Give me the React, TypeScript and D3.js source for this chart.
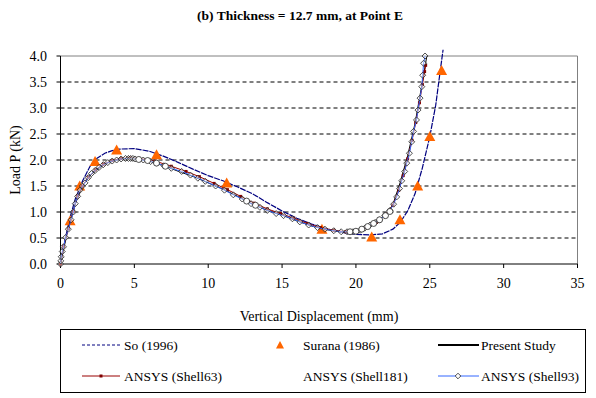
import React from 'react';
import * as d3 from 'd3';

// So (1996)
const soX = [0, 0.3, 0.6, 1.0, 1.5, 2.0, 2.5, 3.0, 3.5, 4.0, 5.0, 6.0, 7.0, 8.0, 9.0, 10.0, 11.0, 12.0, 13.0, 14.0, 15.0, 16.0, 17.0, 18.0, 19.0, 20.0, 21.0, 21.8, 22.5, 23.0, 23.5, 24.0, 24.5, 25.0, 25.4, 25.7, 25.9];
const soY = [0, 0.45, 0.85, 1.25, 1.6, 1.88, 2.04, 2.13, 2.18, 2.21, 2.22, 2.17, 2.07, 1.95, 1.82, 1.7, 1.6, 1.48, 1.35, 1.18, 1.02, 0.88, 0.77, 0.68, 0.61, 0.57, 0.56, 0.58, 0.67, 0.8, 1.02, 1.35, 1.85, 2.45, 3.05, 3.7, 4.12];

// Surana (1986)
const suranaX = [0.65, 1.3, 2.34, 3.8, 6.5, 11.25, 17.7, 21.07, 22.98, 24.18, 25.0, 25.8];
const suranaY = [0.83, 1.5, 1.97, 2.19, 2.1, 1.56, 0.67, 0.52, 0.85, 1.5, 2.45, 3.72];

// Present Study
const presentX = [0, 0.5, 1.0, 1.5, 2.0, 2.5, 3.0, 3.5, 4.0, 4.5, 5.0, 6.0, 7.0, 8.0, 9.0, 10.0, 11.0, 12.0, 13.0, 14.0, 15.0, 16.0, 17.0, 18.0, 19.0, 19.5, 20.0, 20.5, 21.0, 21.5, 22.0, 22.5, 23.0, 23.5, 24.0, 24.5, 24.8];
const presentY = [0, 0.66, 1.16, 1.5, 1.7, 1.82, 1.92, 1.98, 2.02, 2.03, 2.03, 1.98, 1.89, 1.78, 1.68, 1.56, 1.44, 1.3, 1.15, 1.03, 0.94, 0.83, 0.73, 0.66, 0.62, 0.61, 0.62, 0.66, 0.73, 0.82, 0.94, 1.14, 1.57, 2.08, 2.7, 3.5, 4.0];

// ANSYS (Shell63)
const s63X = [0, 0.2, 0.53, 0.87, 1.16, 1.48, 1.88, 2.35, 2.9, 3.5, 4.1, 4.7, 5.3, 6.4, 7.5, 8.5, 9.4, 10.4, 11.3, 12.2, 13.1, 14.0, 14.9, 15.8, 16.7, 17.6, 18.5, 19.3, 20.0, 20.7, 21.4, 22.0, 22.5, 22.9, 23.2, 23.5, 23.8, 24.05, 24.3, 24.5, 24.65, 24.72];
const s63Y = [0, 0.34, 0.68, 1.01, 1.31, 1.5, 1.67, 1.81, 1.92, 1.99, 2.03, 2.04, 2.03, 1.98, 1.88, 1.78, 1.68, 1.55, 1.43, 1.3, 1.17, 1.06, 0.97, 0.88, 0.78, 0.7, 0.65, 0.62, 0.63, 0.7, 0.8, 0.95, 1.13, 1.42, 1.7, 2.02, 2.38, 2.72, 3.1, 3.45, 3.7, 3.82];

// ANSYS (Shell181)
const s181X = [5.3, 5.9, 6.5, 7.1, 12.6, 13.2, 19.6, 20.0, 20.4, 20.8, 21.2, 21.6, 22.0, 22.3];
const s181Y = [2.01, 1.99, 1.94, 1.88, 1.21, 1.13, 0.62, 0.63, 0.67, 0.72, 0.78, 0.85, 0.93, 1.01];

// ANSYS (Shell93)
const s93X = [0, 0.02, 0.05, 0.12, 0.2, 0.35, 0.53, 0.72, 0.87, 1.0, 1.16, 1.32, 1.48, 1.66, 1.88, 2.1, 2.35, 2.62, 2.9, 3.2, 3.5, 3.8, 4.1, 4.4, 4.6, 4.75, 4.9, 5.05, 5.6, 6.1, 6.5, 7.0, 7.5, 8.2, 8.8, 9.3, 9.8, 10.5, 11.1, 11.7, 12.3, 12.9, 13.5, 14.0, 14.6, 15.1, 15.7, 16.2, 16.8, 17.4, 17.9, 18.5, 19.0, 19.4, 19.8, 20.3, 20.6, 20.95, 21.3, 21.6, 21.95, 22.3, 22.55, 22.76, 22.95, 23.1, 23.3, 23.44, 23.62, 23.78, 23.9, 24.1, 24.2, 24.34, 24.46, 24.52, 24.58, 24.68];
const s93Y = [0, 0.06, 0.14, 0.24, 0.33, 0.51, 0.67, 0.85, 1.0, 1.16, 1.3, 1.42, 1.5, 1.56, 1.66, 1.74, 1.8, 1.86, 1.91, 1.95, 1.98, 2.0, 2.02, 2.03, 2.03, 2.03, 2.03, 2.02, 2.0, 1.97, 1.94, 1.89, 1.84, 1.78, 1.71, 1.65, 1.59, 1.5, 1.42, 1.33, 1.25, 1.16, 1.09, 1.03, 0.97, 0.93, 0.87, 0.81, 0.75, 0.7, 0.67, 0.64, 0.62, 0.62, 0.62, 0.65, 0.69, 0.75, 0.8, 0.85, 0.93, 1.03, 1.15, 1.29, 1.45, 1.6, 1.78, 1.94, 2.13, 2.35, 2.55, 2.77, 2.96, 3.19, 3.41, 3.63, 3.86, 4.0];

const xTicks = [0, 5, 10, 15, 20, 25, 30, 35];
const yTicks = [0, 0.5, 1.0, 1.5, 2.0, 2.5, 3.0, 3.5, 4.0];

const W = 596;
const H = 398;
const left = 60.5;
const right = 577.5;
const top = 56;
const bottom = 264;

const x = d3.scaleLinear().domain([0, 35]).range([left, right]);
const y = d3.scaleLinear().domain([0, 4]).range([bottom, top]);

const pts = (xs: number[], ys: number[]) => xs.map((v, i) => [v, ys[i]] as [number, number]);
const line = d3.line<[number, number]>().x(d => x(d[0])).y(d => y(d[1]));

const tri = 'M0,-5.5L5.5,4.5L-5.5,4.5Z';
const dia = 'M0,-3L3,0L0,3L-3,0Z';

const App: React.FC = () => {
  return (
    <svg width={W} height={H} style={{ position: 'absolute', left: 0, top: 0, background: '#fff', fontFamily: "'Liberation Serif'" }}>
      <text x={300} y={20} textAnchor="middle" fontSize={13.5} fontWeight="bold">(b) Thickness = 12.7 mm, at Point E</text>

      {/* grid */}
      {yTicks.filter(t => t > 0 && t < 4).map(t => (
        <line key={t} x1={left} x2={right} y1={y(t)} y2={y(t)} stroke="#000" strokeWidth={1} strokeDasharray="4,3" />
      ))}
      <line x1={left} x2={right} y1={y(4)} y2={y(4)} stroke="#808080" strokeWidth={1} />
      <line x1={right} x2={right} y1={top} y2={bottom} stroke="#808080" strokeWidth={1} />

      {/* axes */}
      <line x1={left} x2={left} y1={top} y2={bottom} stroke="#000" strokeWidth={1} />
      <line x1={left} x2={right} y1={bottom} y2={bottom} stroke="#000" strokeWidth={1} />
      {yTicks.map(t => (
        <g key={'y' + t}>
          <line x1={left - 4} x2={left} y1={y(t)} y2={y(t)} stroke="#000" />
          <text x={47} y={y(t)} dy="0.35em" textAnchor="end" fontSize={14}>{t.toFixed(1)}</text>
        </g>
      ))}
      {xTicks.map(t => (
        <g key={'x' + t}>
          <line x1={x(t)} x2={x(t)} y1={bottom} y2={bottom + 4} stroke="#000" />
          <text x={x(t)} y={288} textAnchor="middle" fontSize={14}>{t}</text>
        </g>
      ))}
      <text x={319} y={321} textAnchor="middle" fontSize={14}>Vertical Displacement (mm)</text>
      <text transform={`translate(20,160) rotate(-90)`} textAnchor="middle" fontSize={14}>Load P (kN)</text>

      {/* series */}
      <path d={line(pts(soX, soY)) || ''} fill="none" stroke="#000080" strokeWidth={1.2} strokeDasharray="6,1" />
      {pts(suranaX, suranaY).map((d, i) => (
        <path key={'s' + i} d={tri} transform={`translate(${x(d[0])},${y(d[1])})`} fill="#FF6600" />
      ))}
      <path d={line(pts(presentX, presentY)) || ''} fill="none" stroke="#000" strokeWidth={1} />
      <path d={line(pts(s63X, s63Y)) || ''} fill="none" stroke="#990000" strokeWidth={1} />
      {pts(s63X, s63Y).map((d, i) => (
        <rect key={'r' + i} x={x(d[0]) - 1.5} y={y(d[1]) - 1.5} width={3} height={3} fill="#800000" />
      ))}
      <path d={line(pts(s93X, s93Y)) || ''} fill="none" stroke="#3366FF" strokeWidth={1} />
      {pts(s93X, s93Y).map((d, i) => (
        <path key={'d' + i} d={dia} transform={`translate(${x(d[0])},${y(d[1])})`} fill="#fff" fillOpacity={0.4} stroke="#222" strokeWidth={0.8} />
      ))}
      {pts(s181X, s181Y).map((d, i) => (
        <circle key={'c' + i} cx={x(d[0])} cy={y(d[1])} r={3} fill="#fff" stroke="#222" strokeWidth={0.8} />
      ))}

      {/* legend */}
      <rect x={60.5} y={329.5} width={525} height={63} fill="#fff" stroke="#000" strokeWidth={1} />
      <g fontSize={13.5}>
        <line x1={82} x2={120} y1={345} y2={345} stroke="#000080" strokeDasharray="3,2" />
        <text x={124} y={345} dy="0.35em">So (1996)</text>
        <path d="M0,-4L4,3.5L-4,3.5Z" transform="translate(280,345)" fill="#FF6600" />
        <text x={303} y={345} dy="0.35em">Surana (1986)</text>
        <line x1={438} x2={479} y1={345} y2={345} stroke="#000" strokeWidth={2} />
        <text x={481} y={345} dy="0.35em">Present Study</text>

        <line x1={82} x2={120} y1={376} y2={376} stroke="#990000" />
        <rect x={99.5} y={374.5} width={3} height={3} fill="#800000" />
        <text x={124} y={376} dy="0.35em">ANSYS (Shell63)</text>
        <text x={303} y={376} dy="0.35em">ANSYS (Shell181)</text>
        <line x1={438} x2={479} y1={376} y2={376} stroke="#3366FF" />
        <path d="M0,-2.8L2.8,0L0,2.8L-2.8,0Z" transform="translate(458,376)" fill="#fff" stroke="#222" strokeWidth={0.8} />
        <text x={481} y={376} dy="0.35em">ANSYS (Shell93)</text>
      </g>
    </svg>
  );
};

export default App;
